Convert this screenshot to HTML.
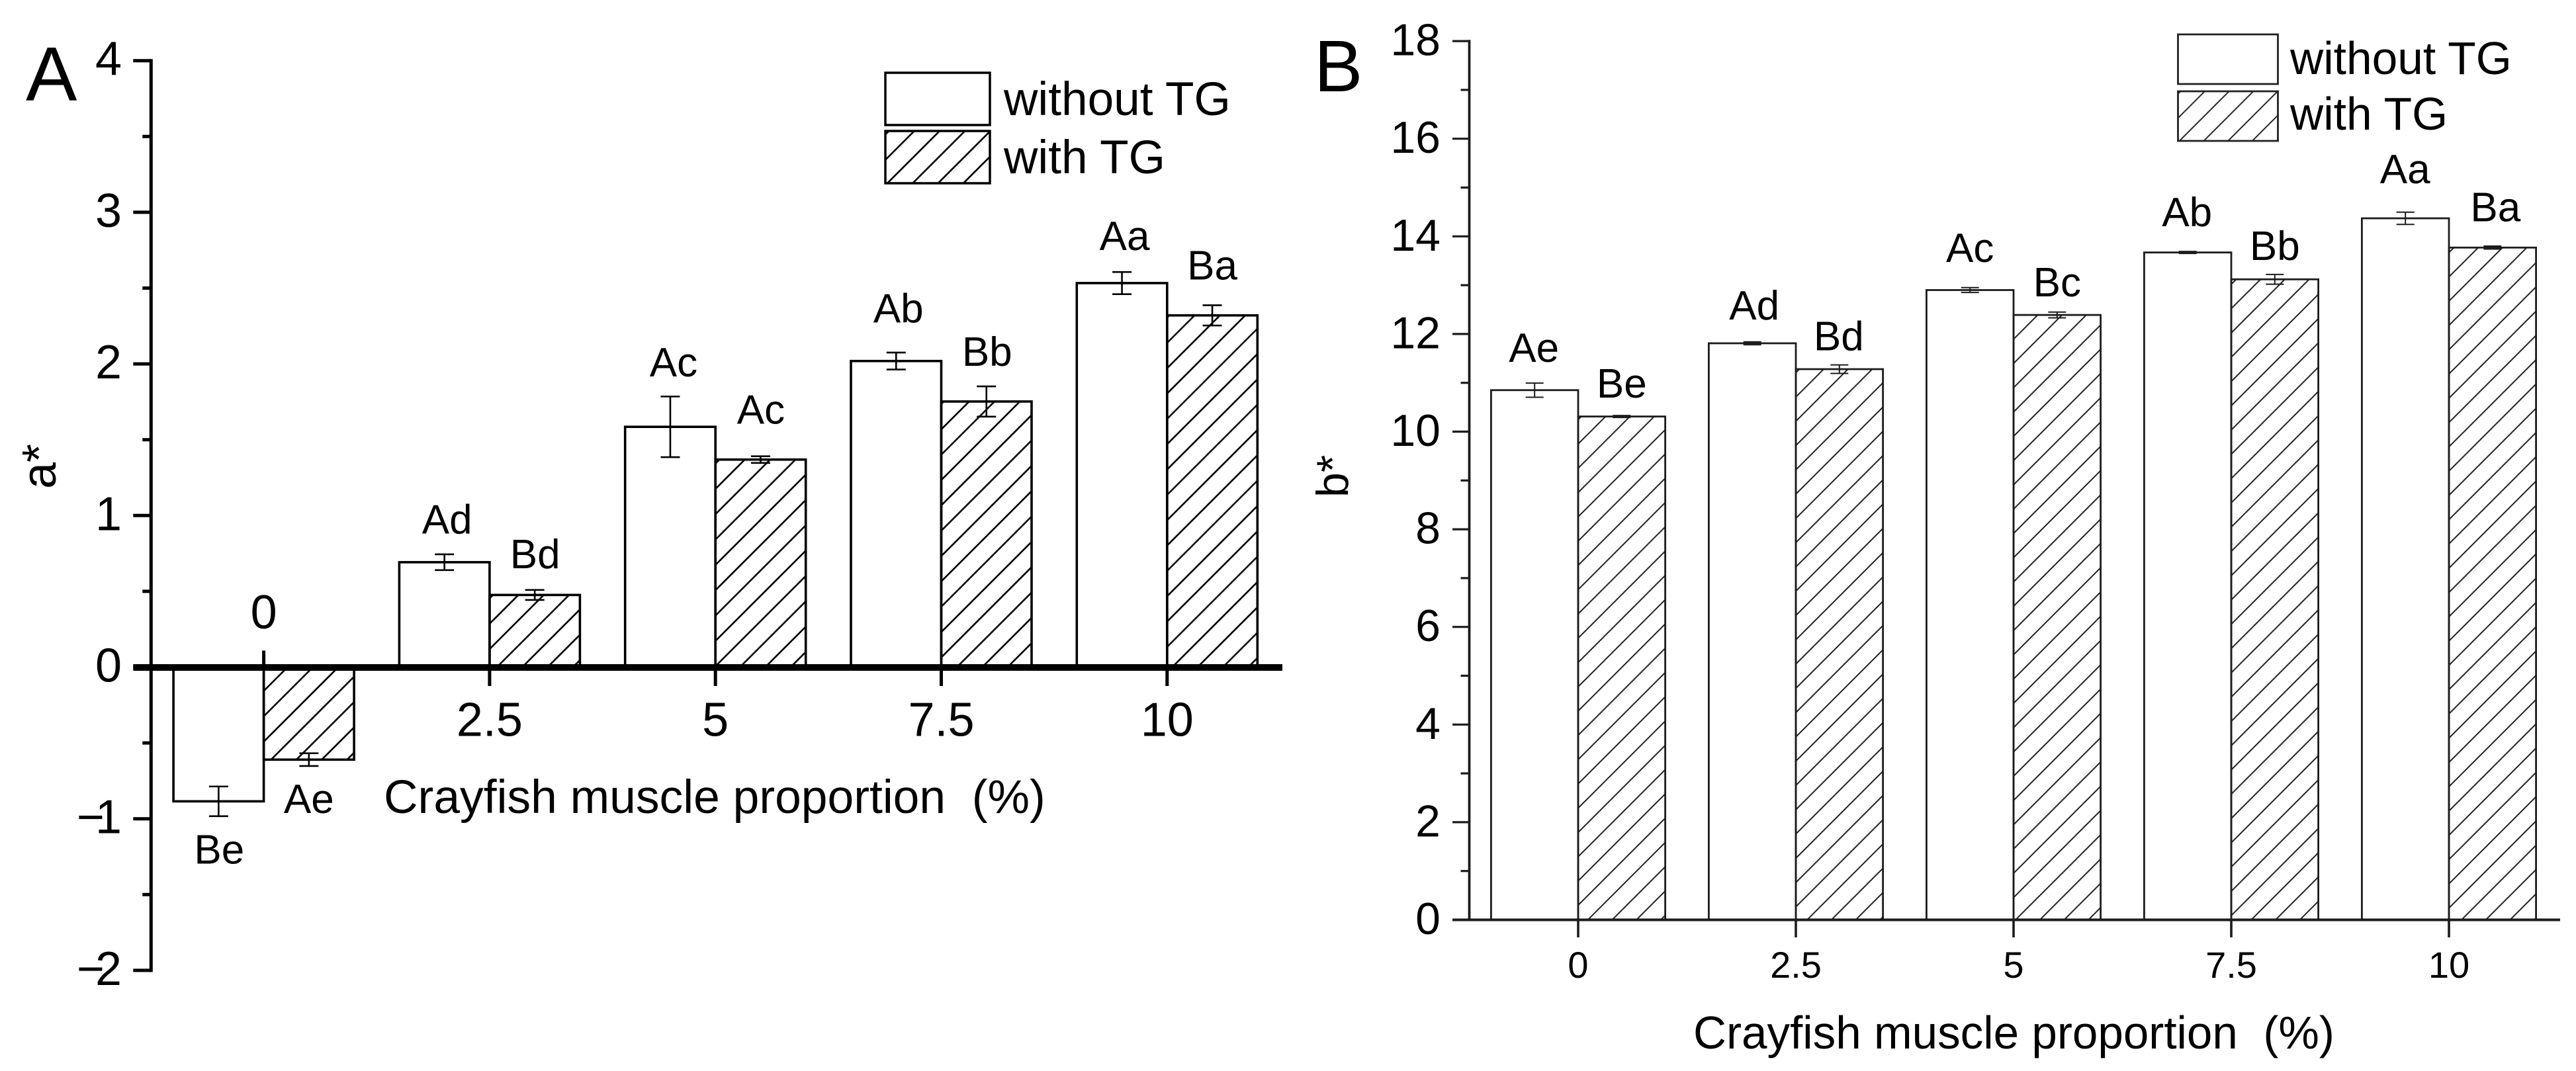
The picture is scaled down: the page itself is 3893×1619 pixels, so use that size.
<!DOCTYPE html>
<html lang="en">
<head>
<meta charset="utf-8">
<title>a* and b* of crayfish muscle proportion</title>
<style>
html,body{margin:0;padding:0;background:#fff;}
svg{display:block;}
text{font-family:"Liberation Sans",Arial,sans-serif;fill:#000;white-space:pre;}
</style>
</head>
<body>
<svg id="figure" xmlns="http://www.w3.org/2000/svg" width="3893" height="1619" viewBox="0 0 3893 1619">
  <rect x="0" y="0" width="3893" height="1619" fill="#fff"/>
  <defs id="defs"></defs>

  <g id="panel-a"></g>
  <g id="panel-b"></g>

  <text x="39" y="152" font-size="116">A</text>
  <text x="1986" y="138" font-size="110">B</text>

  <text transform="translate(84,739) rotate(-90)" font-size="72">a*</text>
  <text transform="translate(2037,752) rotate(-90)" font-size="68">b*</text>

  <text x="580" y="1229" font-size="71.4">Crayfish muscle proportion  (%)</text>
  <text x="2559" y="1585" font-size="69.2">Crayfish muscle proportion  (%)</text>

  <g>
    <rect x="1338" y="110" width="158" height="79" fill="#fff" stroke="#000" stroke-width="3.5"/>
    <rect x="1338" y="198" width="158" height="79" fill="url(#hatch-legend-a)" stroke="#000" stroke-width="3.5"/>
    <text x="1517" y="174" font-size="71.2">without TG</text>
    <text x="1517" y="262" font-size="71.2">with TG</text>
  </g>
  <g>
    <rect x="3291.5" y="52" width="151" height="75" fill="#fff" stroke="#222" stroke-width="2.8"/>
    <rect x="3291.5" y="138" width="151" height="75" fill="url(#hatch-legend-b)" stroke="#222" stroke-width="2.8"/>
    <text x="3461" y="112" font-size="69.5">without TG</text>
    <text x="3461" y="196" font-size="69.5">with TG</text>
  </g>
</svg>

<script>
// ---- chart data ----
const categories = ['0', '2.5', '5', '7.5', '10'];

const aWithout = [-0.885, 0.692, 1.585, 2.019, 2.533];
const aWith = [-0.61, 0.476, 1.369, 1.752, 2.32];
const aWithoutErr = [0.098, 0.052, 0.2, 0.056, 0.073];
const aWithErr = [0.042, 0.033, 0.022, 0.1, 0.067];
const aWithoutLetters = ['Be', 'Ad', 'Ac', 'Ab', 'Aa'];
const aWithLetters = ['Ae', 'Bd', 'Ac', 'Bb', 'Ba'];
const aMajorTicks = [4, 3, 2, 1, 0, -1, -2];
const aMajorTickLabels = ['4', '3', '2', '1', '0', '\u22121', '\u22122'];
const aMinorTicks = [3.5, 2.5, 1.5, 0.5, -0.5, -1.5];

const bWithout = [10.85, 11.81, 12.9, 13.67, 14.37];
const bWith = [10.31, 11.28, 12.39, 13.12, 13.77];
const bWithoutErr = [0.145, 0.03, 0.05, 0.02, 0.125];
const bWithErr = [0.02, 0.087, 0.06, 0.1, 0.03];
const bWithoutLetters = ['Ae', 'Ad', 'Ac', 'Ab', 'Aa'];
const bWithLetters = ['Be', 'Bd', 'Bc', 'Bb', 'Ba'];
const bMajorTicks = [18, 16, 14, 12, 10, 8, 6, 4, 2, 0];
const bMajorTickLabels = ['18', '16', '14', '12', '10', '8', '6', '4', '2', '0'];
const bMinorTicks = [17, 15, 13, 11, 9, 7, 5, 3, 1];

// ---- axis functions ----
function aY(v) { return 1008.5 - 229.2 * v; }
function aX(i) { return 398.6 + 341.3 * i; }
function bY(v) { return 1390.5 - 73.8 * v; }
function bX(i) { return 2385 + 329 * i; }

const SVG_NS = 'http://www.w3.org/2000/svg';
function make(tag, attrs, parent) {
  const el = document.createElementNS(SVG_NS, tag);
  for (const k in attrs) el.setAttribute(k, attrs[k]);
  parent.appendChild(el);
  return el;
}

const defs = document.getElementById('defs');
function hatch(id, sum, period, width, color) {
  const off = ((sum % period) + period) % period;
  const p = make('pattern', { id: id, patternUnits: 'userSpaceOnUse', x: off, y: 0, width: period, height: period }, defs);
  make('path', {
    d: 'M-2,2L2,-2M0,' + period + 'L' + period + ',0M' + (period - 2) + ',' + (period + 2) + 'L' + (period + 2) + ',' + (period - 2),
    stroke: color, 'stroke-width': width, fill: 'none'
  }, p);
  return 'url(#' + id + ')';
}
hatch('hatch-legend-a', 1618, 38.3, 2.6, '#000');
hatch('hatch-legend-b', 3543.4, 36.7, 2, '#222');

function drawPanel(cfg) {
  const g = document.getElementById(cfg.groupId);
  const half = cfg.barWidth / 2;

  cfg.categories.forEach(function (cat, i) {
    const cx = cfg.x(i);
    const zero = cfg.y(0);

    // without TG bar
    const yA = cfg.y(cfg.without[i]);
    const barA = make('rect', {
      x: cx - cfg.barWidth, y: Math.min(yA, zero), width: cfg.barWidth, height: Math.abs(zero - yA),
      fill: '#fff', stroke: cfg.color, 'stroke-width': cfg.barStroke
    }, g);
    
    

    // with TG bar
    const left = cx;
    const fill = hatch(cfg.prefix + '-hatch-' + i, left + cfg.hatchPhase[i] + zero, cfg.hatchPeriod, cfg.hatchStroke, cfg.color);
    const yB = cfg.y(cfg.withTg[i]);
    const barB = make('rect', {
      x: cx, y: Math.min(yB, zero), width: cfg.barWidth, height: Math.abs(zero - yB),
      fill: fill, stroke: cfg.color, 'stroke-width': cfg.barStroke
    }, g);
    
    

    // error bars
    const errA = make('path', {
      d: errPath(cx - half, cfg.y(cfg.without[i] + cfg.withoutErr[i]), cfg.y(cfg.without[i] - cfg.withoutErr[i]), cfg.cap),
      fill: 'none', stroke: cfg.color, 'stroke-width': cfg.errStroke
    }, g);
    
    

    const errB = make('path', {
      d: errPath(cx + half, cfg.y(cfg.withTg[i] + cfg.withErr[i]), cfg.y(cfg.withTg[i] - cfg.withErr[i]), cfg.cap),
      fill: 'none', stroke: cfg.color, 'stroke-width': cfg.errStroke
    }, g);
    
    

    // significance letters follow the bar tops
    const lblA = make('text', {
      x: cx - half + cfg.withoutDx[i], y: yA + cfg.withoutDy[i], 'text-anchor': 'middle', 'font-size': cfg.letterSize
    }, g);
    lblA.textContent = cfg.withoutLetters[i];
    
    

    const lblB = make('text', {
      x: cx + half + cfg.withDx[i], y: yB + cfg.withDy[i], 'text-anchor': 'middle', 'font-size': cfg.letterSize
    }, g);
    lblB.textContent = cfg.withLetters[i];
    
    

    // x tick + label
    const up = cfg.firstTickUp && i === 0;
    const xt = make('line', {
      x1: cx, x2: cx, y1: zero, y2: up ? zero - cfg.xTickUp : zero + cfg.xTickDown,
      stroke: cfg.color, 'stroke-width': cfg.xTickStroke
    }, g);
    
    

    const xl = make('text', {
      x: cx, y: up ? cfg.xLabelUpY : cfg.xLabelY, 'text-anchor': 'middle', 'font-size': cfg.xLabelSize
    }, g);
    xl.textContent = cat;
    
    
  });

  // y axis
  const axis = make('line', {
    x1: cfg.axisX, x2: cfg.axisX,
    y1: cfg.y(cfg.majorTicks[0]) - cfg.axisStroke / 2,
    y2: cfg.y(cfg.majorTicks[cfg.majorTicks.length - 1]) + cfg.axisStroke / 2,
    stroke: cfg.color, 'stroke-width': cfg.axisStroke
  }, g);
  
  

  cfg.majorTicks.forEach(function (v, i) {
    const t = make('line', {
      x1: cfg.axisX - cfg.majorLen, x2: cfg.axisX, y1: cfg.y(v), y2: cfg.y(v),
      stroke: cfg.color, 'stroke-width': cfg.tickStroke
    }, g);
    
    

    const l = make('text', {
      x: cfg.yLabelX, y: cfg.y(v) + cfg.yLabelDy, 'text-anchor': 'end', 'font-size': cfg.yLabelSize
    }, g);
    const label = cfg.majorLabels[i];
    if (label.charAt(0) === '\u2212') {
      // the reference minus sign sits tighter against its digit
      const minus = make('tspan', { 'letter-spacing': '-14' }, l);
      minus.textContent = label.charAt(0);
      const digit = make('tspan', {}, l);
      digit.textContent = label.slice(1);
    } else {
      l.textContent = label;
    }
    
    
  });

  cfg.minorTicks.forEach(function (v) {
    const t = make('line', {
      x1: cfg.axisX - cfg.minorLen, x2: cfg.axisX, y1: cfg.y(v), y2: cfg.y(v),
      stroke: cfg.color, 'stroke-width': cfg.tickStroke
    }, g);
    
    
  });

  // x axis line on top
  const xAxis = make('line', {
    x1: cfg.axisX - cfg.majorLen, x2: cfg.xAxisEnd, y1: cfg.y(0) + cfg.xAxisShift, y2: cfg.y(0) + cfg.xAxisShift,
    stroke: cfg.color, 'stroke-width': cfg.xAxisStroke
  }, g);
  
  
}

function errPath(x, top, bottom, cap) {
  return 'M' + (x - cap) + ',' + top + 'H' + (x + cap) +
         'M' + x + ',' + top + 'V' + bottom +
         'M' + (x - cap) + ',' + bottom + 'H' + (x + cap);
}

drawPanel({
  groupId: 'panel-a', prefix: 'a', x: aX, y: aY, categories: categories,
  without: aWithout, withTg: aWith, withoutErr: aWithoutErr, withErr: aWithErr,
  withoutLetters: aWithoutLetters, withLetters: aWithLetters,
  majorTicks: aMajorTicks, majorLabels: aMajorTickLabels, minorTicks: aMinorTicks,
  barWidth: 136.5, barStroke: 3.6, errStroke: 2.6, cap: 14.5, color: '#000',
  hatchPhase: [36, 11, 37, 23.6, 7.7], hatchPeriod: 38.3, hatchStroke: 2.6,
  withoutDx: [1, 4, 5, 3.5, 4], withDx: [0, 0.5, 0.5, 1, 0],
  withoutDy: [94, -43.5, -76, -58.4, -50], withDy: [80.6, -40.3, -54.4, -54, -54.5],
  letterSize: 62,
  firstTickUp: true, xTickUp: 25, xTickDown: 28.5, xTickStroke: 5,
  xLabelUpY: 950, xLabelY: 1112.5, xLabelSize: 72,
  axisX: 228.3, axisStroke: 5, tickStroke: 5, majorLen: 27, minorLen: 13,
  yLabelX: 184, yLabelDy: 22, yLabelSize: 72,
  xAxisEnd: 1938, xAxisStroke: 10, xAxisShift: 0.5
});

drawPanel({
  groupId: 'panel-b', prefix: 'b', x: bX, y: bY, categories: categories,
  without: bWithout, withTg: bWith, withoutErr: bWithoutErr, withErr: bWithErr,
  withoutLetters: bWithoutLetters, withLetters: bWithLetters,
  majorTicks: bMajorTicks, majorLabels: bMajorTickLabels, minorTicks: bMinorTicks,
  barWidth: 131.6, barStroke: 2.8, errStroke: 2, cap: 13.5, color: '#1c1c1c',
  hatchPhase: [14.6, 17, 3, 30.2, 18.9], hatchPeriod: 36.7, hatchStroke: 2,
  withoutDx: [-1, 3, 0, -1, -0.5], withDx: [0, -1, 0, 0, 4.5],
  withoutDy: [-42.8, -35.9, -42.3, -39.6, -53], withDy: [-28.5, -28.7, -28, -29, -40],
  letterSize: 62,
  firstTickUp: false, xTickUp: 0, xTickDown: 26.5, xTickStroke: 3.6,
  xLabelUpY: 0, xLabelY: 1478, xLabelSize: 56,
  axisX: 2220.5, axisStroke: 3.8, tickStroke: 3.2, majorLen: 25.5, minorLen: 13,
  yLabelX: 2177, yLabelDy: 21.5, yLabelSize: 68,
  xAxisEnd: 3869, xAxisStroke: 4, xAxisShift: 0
});
</script>
</body>
</html>
